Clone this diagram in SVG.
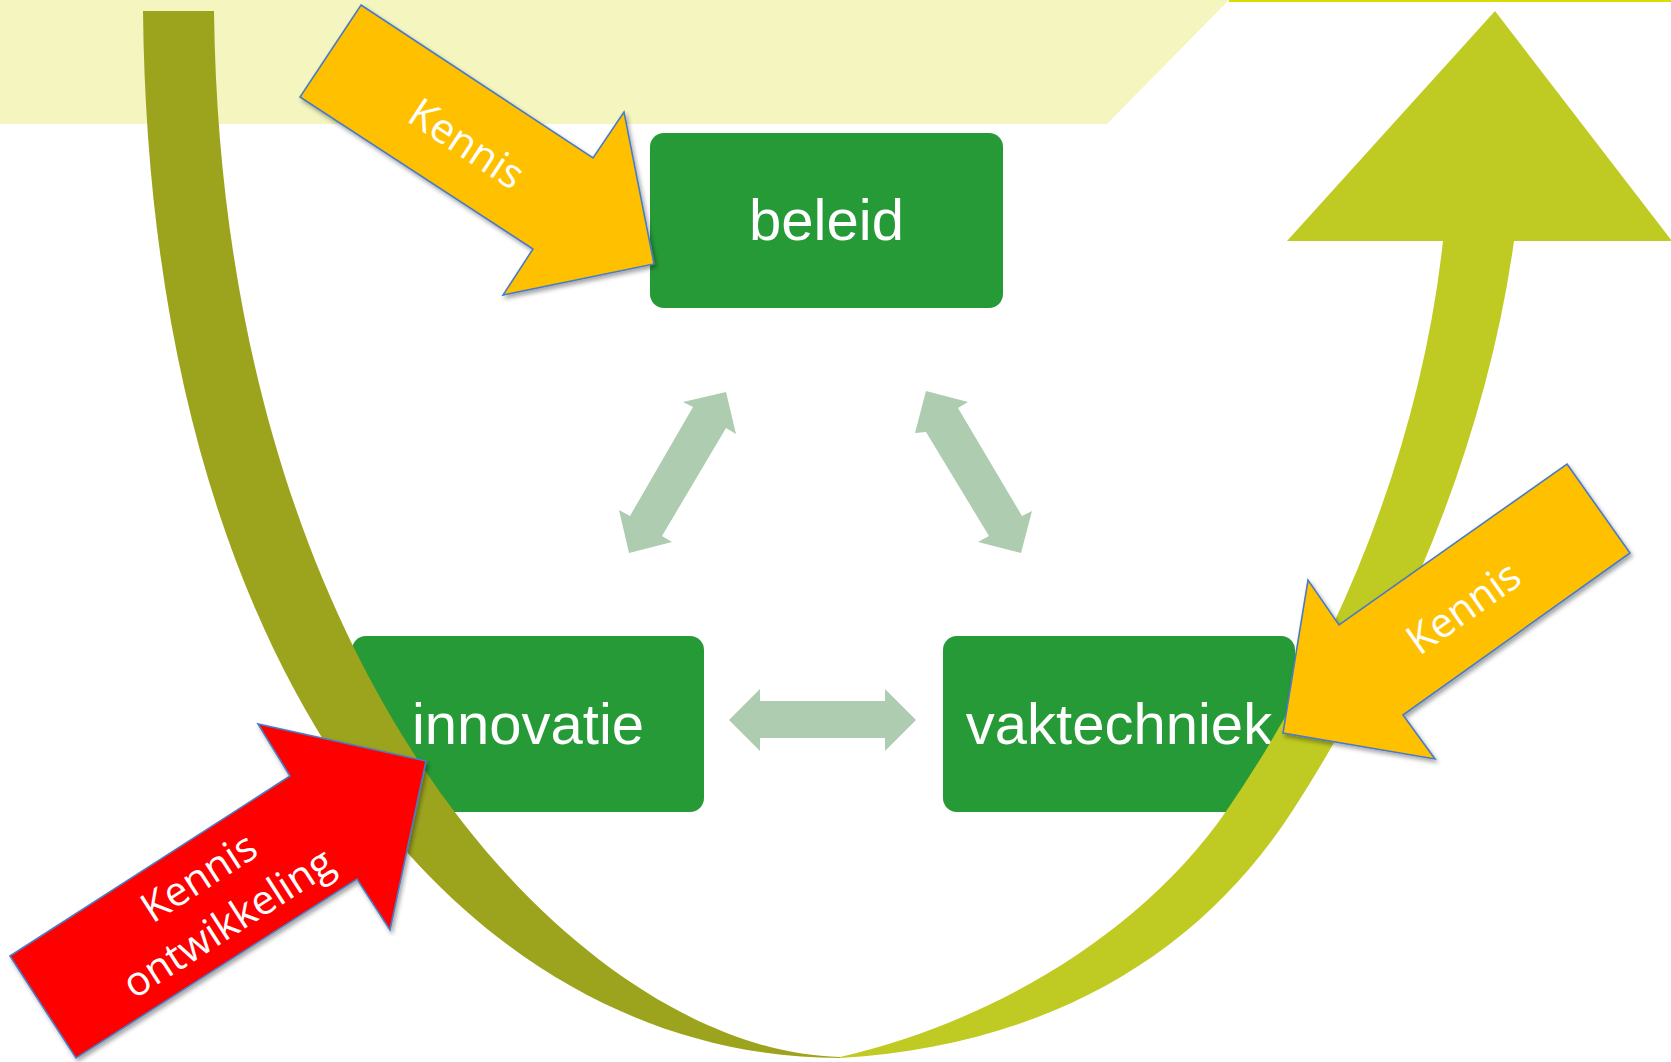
<svg xmlns="http://www.w3.org/2000/svg" width="1671" height="1062" viewBox="0 0 1671 1062">
<style>
.box{fill:#269A37}
.boxtxt{font-family:"Liberation Sans",Arial,sans-serif;font-size:58px;fill:#ffffff;text-anchor:middle}
.link{fill:#ADCCB0}
.kennis{fill:#FFC000;stroke:#4A7BC4;stroke-width:1.6;stroke-linejoin:miter}
.ontw{fill:#FF0000;stroke:#4A7BC4;stroke-width:1.6;stroke-linejoin:miter}
.lbl{font-family:"Open Sans","Noto Sans",sans-serif;font-size:41px;fill:#ffffff;text-anchor:middle}
</style>
<defs>
<linearGradient id="ugrad" gradientUnits="userSpaceOnUse" x1="0" y1="0" x2="1671" y2="0">
<stop offset="0.5027" stop-color="#9CA41E"/>
<stop offset="0.5027" stop-color="#BFCB22"/>
</linearGradient>
<filter id="shadow" x="-10%" y="-10%" width="130%" height="130%">
<feDropShadow dx="2" dy="3" stdDeviation="2" flood-color="#000000" flood-opacity="0.35"/>
</filter>
</defs>
<rect width="1671" height="1062" fill="#ffffff"/>
<g id="background">
<polygon points="0,0 1229,0 1107,124 0,124" fill="#F5F5C0"/>
<line x1="1229" y1="1" x2="1671" y2="1" stroke="#DCDC00" stroke-width="2"/>
</g>
<g id="beleid">
<rect class="box" x="650" y="133" width="353" height="175" rx="14"/>
<text class="boxtxt" x="826.5" y="240">beleid</text>
</g>
<g id="innovatie">
<rect class="box" x="352" y="636" width="352" height="176" rx="14"/>
<text class="boxtxt" x="528" y="744">innovatie</text>
</g>
<g id="vaktechniek">
<rect class="box" x="943" y="636" width="352" height="176" rx="14"/>
<text class="boxtxt" x="1119" y="744">vaktechniek</text>
</g>
<g id="connectors">
<polygon class="link" points="726,392 736,434 726,428 662,536 672,542 629,553 619,510 630,516 693,407 683,402"/>
<polygon class="link" points="926,391 968,402 958,408 1022,516 1032,511 1021,553 978,542 989,536 926,432 915,433"/>
<polygon class="link" points="729,720 760,689 760,701 885,701 885,689 916,720 885,751 885,738 760,738 760,751"/>
</g>
<g id="u-arrow">
<path fill="url(#ugrad)" d="M143,11 C150,700 480,1058 840,1058 C1050,1045 1200,954 1293,810 C1403,639 1486,442 1514,241 L1672,241 L1495,11 L1287,241 L1443,241 C1421,443 1341,644 1227,810 C1141,935 989,1023 840,1057 C590,1052 222,690 214,11 Z"/>
</g>
<g id="kennis-beleid">
<polygon class="kennis" filter="url(#shadow)" points="361,5 593,158 624,112 654,264 503,295 533,249 300,97"/>
<text class="lbl" transform="translate(467,143) rotate(33.4)" x="0" y="15">Kennis</text>
</g>
<g id="kennis-vaktechniek">
<polygon class="kennis" filter="url(#shadow)" points="1567,464 1630,553 1403,715 1435,759 1283,733 1308,580 1339,625"/>
<text class="lbl" transform="translate(1463,607) rotate(-35.3)" x="0" y="15">Kennis</text>
</g>
<g id="kennis-ontwikkeling">
<polygon class="ontw" filter="url(#shadow)" points="10,956 290,776 258,724 426,761 390,930 357,879 76,1058"/>
<g transform="translate(214,901) rotate(-32.7)">
<text class="lbl" x="0" y="-14">Kennis</text>
<text class="lbl" x="0" y="40">ontwikkeling</text>
</g>
</g>
</svg>
